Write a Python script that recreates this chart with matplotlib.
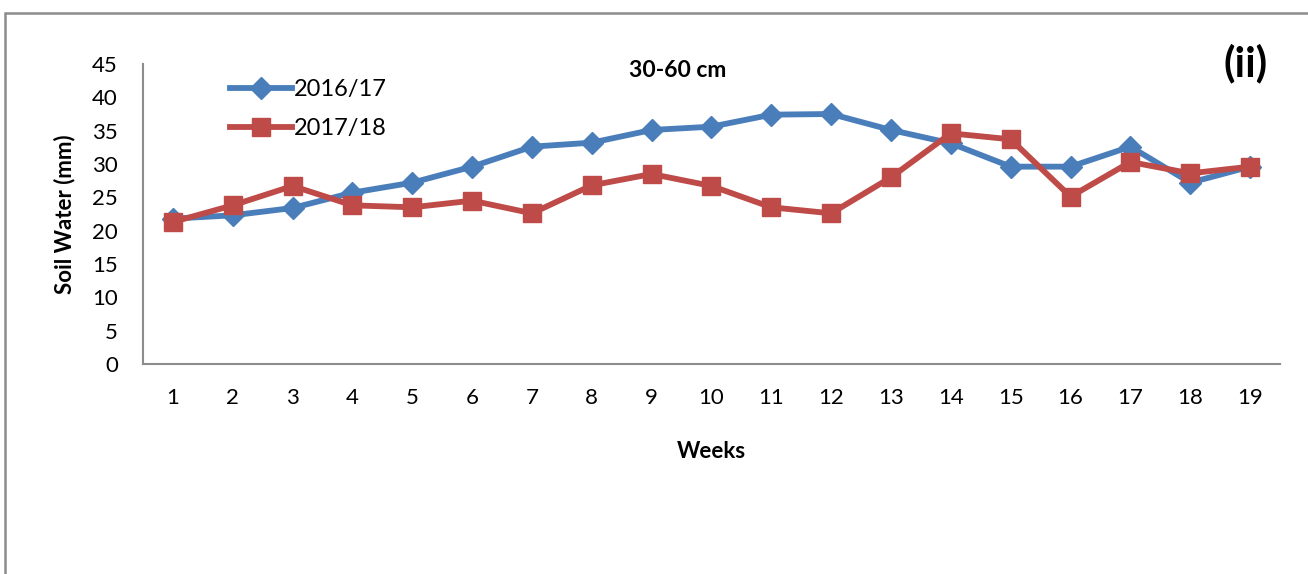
import matplotlib.pyplot as plt
from matplotlib.patches import Rectangle

plt.rcParams['font.family'] = ['Lato', 'DejaVu Sans']

weeks = list(range(1, 20))
sw_2016 = [21.8, 22.3, 23.4, 25.7, 27.2, 29.6, 32.6, 33.2, 35.1, 35.6,
           37.4, 37.5, 35.1, 33.1, 29.6, 29.6, 32.6, 27.2, 29.6]
sw_2017 = [21.3, 23.8, 26.7, 23.8, 23.5, 24.5, 22.6, 26.8, 28.5, 26.7,
           23.5, 22.6, 28.0, 34.6, 33.7, 25.1, 30.3, 28.6, 29.6]

fig = plt.figure(figsize=(13.08, 5.74), dpi=100)
# outer chart frame
fig.patches.append(Rectangle((0.004, -0.1), 1.1, 1.077, transform=fig.transFigure,
                             fill=False, edgecolor='#8c8c8c', linewidth=1.8))

ax = fig.add_axes([0.1093, 0.3659, 0.8693, 0.5226])
ax.plot(weeks, sw_2016, color='#4a7ebb', lw=4.2, marker='D', ms=11,
        label='2016/17')
ax.plot(weeks, sw_2017, color='#be4b48', lw=4.2, marker='s', ms=13,
        label='2017/18')

ax.set_xlim(0.5, 19.5)
ax.set_ylim(0, 45)
ax.set_xticks(weeks)
ax.set_yticks(range(0, 46, 5))
ax.tick_params(axis='both', length=0, labelsize=16)
ax.tick_params(axis='x', pad=17)
ax.tick_params(axis='y', pad=18)
for s in ['top', 'right']:
    ax.spines[s].set_visible(False)
for s in ['left', 'bottom']:
    ax.spines[s].set_color('#8c8c8c')
    ax.spines[s].set_linewidth(1.5)

ax.set_xlabel('Weeks', fontsize=16, fontweight='bold', labelpad=24)
ax.set_ylabel('Soil Water (mm)', fontsize=16, fontweight='bold', labelpad=12)
ax.text(0.47, 0.98, '30-60 cm', transform=ax.transAxes, ha='center', va='center',
        fontsize=16.5, fontweight='bold')
fig.text(0.952, 0.89, '(ii)', ha='center', va='center', fontsize=30,
         fontweight='bold')

ax.legend(loc='upper left', bbox_to_anchor=(0.058, 1.02), frameon=False,
          fontsize=17, handlelength=2.6, handletextpad=0.1, labelspacing=0.75)

fig.savefig('out.png', dpi=100)
